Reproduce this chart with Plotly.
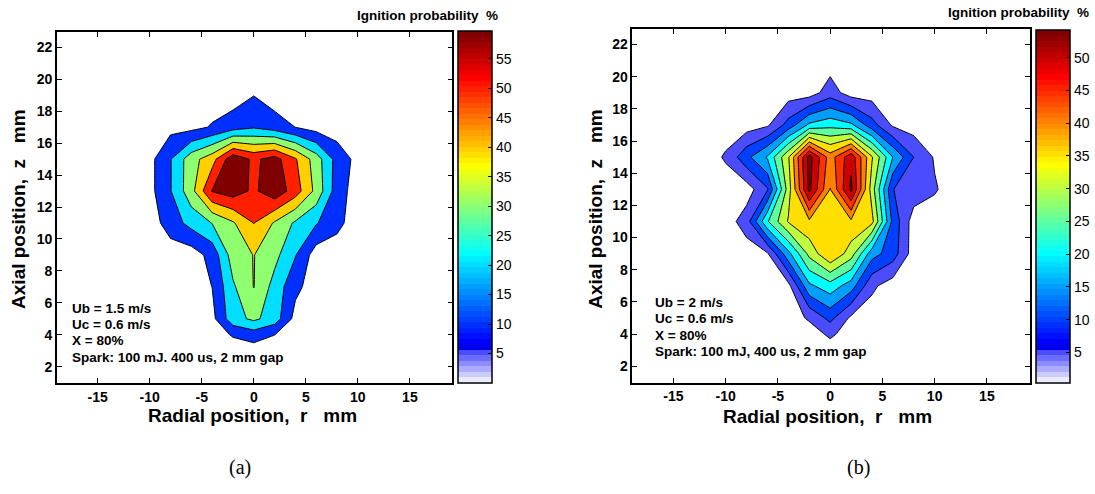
import plotly.graph_objects as go

# ---------------- data ----------------
r_mm = [-12, -10, -8, -6, -4, -2, 0, 2, 4, 6, 8, 10, 12]

# panel (a): Ub = 1.5 m/s
z_mm_a = [3, 4, 5, 7, 9, 11, 13, 15, 17, 19, 21]
prob_a = [
    [0, 0, 0, 0, 0, 0, 0, 0, 0, 0, 0, 0, 0],
    [0, 0, 0, 0, 0, 5.95, 10, 5.1, 0, 0, 0, 0, 0],
    [0, 0, 0, 0, 2, 21.3, 27, 20.3, 1.6, 0, 0, 0, 0],
    [0, 0, 0, 0, 5.1, 23.5, 35.3, 21.2, 7.5, 0, 0, 0, 0],
    [0, 0, 0, 0, 8.5, 30, 35.3, 28.1, 15.6, 0, 0, 0, 0],
    [0, 0, 9.7, 18.5, 25.3, 33.9, 45.2, 33.9, 23.4, 15.8, 7.6, 0, 0],
    [0, 2, 14.5, 31.4, 55.5, 60, 53.1, 62, 50, 32, 9.8, 0.2, 0],
    [0, 2, 14.5, 31, 41, 62, 53, 59, 46, 30, 11, 2, 0],
    [0, 0, 2, 2, 5.85, 10.75, 14, 10, 4.9, 0.9, 0, 0, 0],
    [0, 0, 0, 0, 0, 0, 4.8, 0, 0, 0, 0, 0, 0],
    [0, 0, 0, 0, 0, 0, 0, 0, 0, 0, 0, 0, 0],
]

# panel (b): Ub = 2 m/s
z_mm_b = [3, 4, 5, 7, 9, 11, 13, 15, 17, 19, 21]
prob_b = [
    [0, 0, 0, 0, 0, 0, 0, 0, 0, 0, 0, 0, 0],
    [0, 0, 0, 0, 0, 0, 3.5, 0, 0, 0, 0, 0, 0],
    [0, 0, 0, 0, 0, 3.2, 9, 1.5, 0, 0, 0, 0, 0],
    [0, 0, 0, 0, 1, 16.5, 20.4, 15, 3.5, 0, 0, 0, 0],
    [0, 0, 0, 2, 16, 29, 37.4, 30, 14.5, 10, 0, 0, 0],
    [0, 0, 5, 22, 33, 36.6, 35.5, 36.6, 34, 11, 0, 0, 0],
    [0, 0, 0, 7, 30, 53.7, 37.4, 53.7, 30, 7.6, 5.5, 3, 0],
    [0, 3.1, 11.1, 18.1, 32, 54.6, 40, 51, 33, 17.5, 7.5, 2, 0],
    [0, 0, 0, 1.73, 9.4, 18.5, 20.8, 18.5, 9.5, 1.7, 0, 0, 0],
    [0, 0, 0, 0, 0, 0, 5, 0, 0, 0, 0, 0, 0],
    [0, 0, 0, 0, 0, 0, 0, 0, 0, 0, 0, 0, 0],
]

levels_a = dict(start=5, end=55, size=10)
levels_b = dict(start=2.5, end=52.5, size=5)
cbar_range_a = [0, 59.7]
cbar_range_b = [0.4, 54.3]
cbar_ticks_a = [5, 10, 15, 20, 25, 30, 35, 40, 45, 50, 55]
cbar_ticks_b = [5, 10, 15, 20, 25, 30, 35, 40, 45, 50]
x_ticks = [-15, -10, -5, 0, 5, 10, 15]
y_ticks = [2, 4, 6, 8, 10, 12, 14, 16, 18, 20, 22]
params_a = ["Ub = 1.5 m/s", "Uc = 0.6 m/s", "X = 80%", "Spark: 100 mJ. 400 us, 2 mm gap"]
params_b = ["Ub = 2 m/s", "Uc = 0.6 m/s", "X = 80%", "Spark: 100 mJ, 400 us, 2 mm gap"]

# ---------------- colour map (MATLAB jet, 64 entries, pale bottom) ----------------
LAV = [235, 203, 171, 140, 108, 76]


def cmap_entry(e):
    if e <= 6:
        v = LAV[e - 1]
        return (v, v, 255)
    if e < 25:
        r = 0
    elif e <= 40:
        r = (e - 24) / 16
    elif e <= 55:
        r = 1
    else:
        r = (72 - e) / 16
    if e < 9:
        g = 0
    elif e <= 24:
        g = (e - 8) / 16
    elif e <= 39:
        g = 1
    elif e <= 55:
        g = (56 - e) / 16
    else:
        g = 0
    if e <= 8:
        b = (e + 8) / 16
    elif e <= 23:
        b = 1
    elif e <= 39:
        b = (40 - e) / 16
    else:
        b = 0
    return (round(r * 255), round(g * 255), round(b * 255))


def rgb(c):
    return "rgb(%d,%d,%d)" % c


def entry_for(v, lo, hi):
    return min(64, max(1, int((v - lo) / (hi - lo) * 64) + 1))


def stepped_scale():
    s = []
    for e in range(1, 65):
        c = rgb(cmap_entry(e))
        s.append([(e - 1) / 64, c])
        s.append([e / 64, c])
    return s


def band_scale(levels, rng):
    nc = int(round((levels["end"] - levels["start"]) / levels["size"])) + 1
    sc = [[0, "white"]]
    for k in range(1, nc + 1):
        v = levels["start"] + (k - 0.5) * levels["size"]
        sc.append([k / nc, rgb(cmap_entry(entry_for(v, rng[0], rng[1])))])
    return sc


W, H = 1095, 494


def px(x):
    return x / W


def py(y):
    return 1 - y / H


FONT = "Liberation Sans"

fig = go.Figure()

for lev, rng, zz, pp, xa, ya in [
    (levels_a, cbar_range_a, z_mm_a, prob_a, "x", "y"),
    (levels_b, cbar_range_b, z_mm_b, prob_b, "x2", "y2"),
]:
    fig.add_trace(go.Contour(
        x=r_mm, y=zz, z=pp,
        contours=dict(start=lev["start"], end=lev["end"], size=lev["size"],
                      coloring="fill", showlines=True),
        autocontour=False,
        colorscale=band_scale(lev, rng),
        zauto=False, zmin=-lev["size"], zmax=lev["end"] + 2 * lev["size"],
        line=dict(color="black", width=1, smoothing=0),
        showscale=False, hoverinfo="skip",
        xaxis=xa, yaxis=ya,
    ))

# colour bars
for rng, ticks, x0, yc, ln, xa, ya in [
    (cbar_range_a, cbar_ticks_a, 460, 207, 352, "x", "y"),
    (cbar_range_b, cbar_ticks_b, 1039.3, 206, 353, "x2", "y2"),
]:
    fig.add_trace(go.Scatter(
        x=[None], y=[None], mode="markers", showlegend=False, hoverinfo="skip",
        marker=dict(color=[rng[0]], cmin=rng[0], cmax=rng[1], colorscale=stepped_scale(),
                    showscale=True,
                    colorbar=dict(x=px(x0), xanchor="left", xpad=0, y=py(yc), yanchor="middle",
                                  ypad=0, len=ln, lenmode="pixels", thickness=34,
                                  thicknessmode="pixels", outlinewidth=1.5, outlinecolor="black",
                                  tickvals=ticks, ticks="inside", ticklen=4, tickcolor="black",
                                  tickfont=dict(family=FONT, size=14, color="black"))),
        xaxis=xa, yaxis=ya,
    ))

axis_common = dict(showgrid=False, zeroline=False, showline=True, linecolor="black",
                   linewidth=1.5, mirror="ticks", ticks="inside", ticklen=5, tickwidth=1,
                   tickcolor="black",
                   tickfont=dict(family=FONT, size=14, color="black", weight=700))

xt = dict(tickmode="array", tickvals=x_ticks, ticktext=[str(v) for v in x_ticks])
yt = dict(tickmode="array", tickvals=y_ticks, ticktext=[str(v) for v in y_ticks])

fig.update_layout(
    width=W, height=H, margin=dict(l=0, r=0, t=0, b=0),
    paper_bgcolor="white", plot_bgcolor="white", showlegend=False,
    xaxis=dict(domain=[px(57), px(454)], range=[-18.93, 19.08], anchor="y", **xt, **axis_common),
    yaxis=dict(domain=[py(383), py(32)], range=[0.98, 22.96], anchor="x", **yt, **axis_common),
    xaxis2=dict(domain=[px(634.7), px(1033.3)], range=[-18.93, 19.08], anchor="y2", **xt, **axis_common),
    yaxis2=dict(domain=[py(382.7), py(29)], range=[0.98, 22.96], anchor="x2", **yt, **axis_common),
)

NB = "\u00a0"
ann = []


def add_text(text, x, y, size, xanchor="center", angle=0, bold=True, family=FONT):
    ann.append(dict(text=text, x=px(x), y=py(y), xref="paper", yref="paper",
                    xanchor=xanchor, yanchor="middle", showarrow=False, textangle=angle,
                    font=dict(family=family, size=size, color="black",
                              weight=700 if bold else 400)))


xtitle = "Radial position," + NB * 2 + "r" + NB * 3 + "mm"
ytitle = "Axial position," + NB * 2 + "z" + NB * 3 + "mm"
add_text(xtitle, 253.5, 415.5, 19)
add_text(xtitle, 831, 416, 19)
add_text(ytitle, 18, 209, 19, angle=-90)
add_text(ytitle, 597, 209, 19, angle=-90)
add_text("Ignition probability" + NB * 2 + "%", 356, 15, 13.5, xanchor="left")
add_text("Ignition probability" + NB * 2 + "%", 949, 13, 13.5, xanchor="left")
for i, t in enumerate(params_a):
    add_text(t, 70, [308, 324.5, 340.5, 357][i], 13.5, xanchor="left")
for i, t in enumerate(params_b):
    add_text(t, 655, [302.5, 318.5, 335, 351.5][i], 13.5, xanchor="left")
add_text("(a)", 241, 467, 20, bold=False, family="Liberation Serif")
add_text("(b)", 862, 467, 20, bold=False, family="Liberation Serif")

fig.update_layout(annotations=ann)

fig.write_html("out.html")
